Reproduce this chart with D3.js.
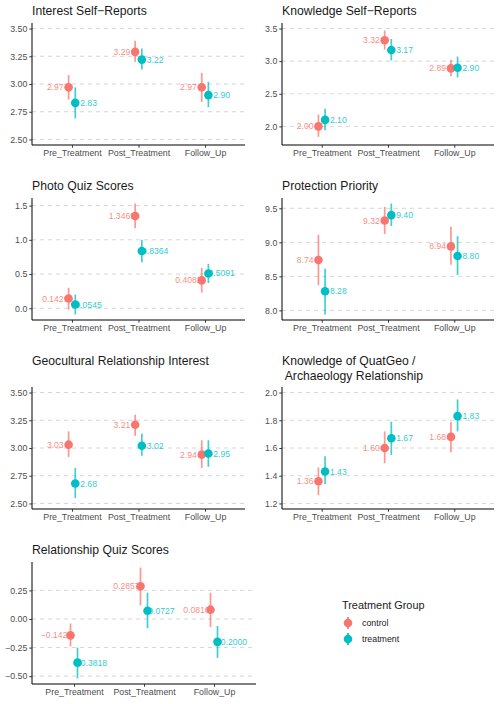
<!DOCTYPE html>
<html>
<head>
<meta charset="utf-8">
<script src="https://cdn.jsdelivr.net/npm/d3@7/dist/d3.min.js"></script>
<style>
  html, body { margin: 0; padding: 0; background: #ffffff; }
  svg { display: block; font-family: 'Liberation Sans', Arial, sans-serif; }
</style>
</head>
<body>
<div id="chart"></div>
<script>
// categories and groups
const categories = ['Pre_Treatment', 'Post_Treatment', 'Follow_Up']
const groups = ['control', 'treatment']
const groupColors = ['#F8766D', '#00BFC4']

// means and 95% intervals, one array per group and panel
const interestCtrl = [2.97, 3.29, 2.97]
const interestCtrlCI = [[2.86, 3.08], [3.20, 3.39], [2.84, 3.10]]
const interestTrt = [2.83, 3.22, 2.90]
const interestTrtCI = [[2.69, 2.97], [3.13, 3.32], [2.79, 3.02]]

const knowCtrl = [2.00, 3.32, 2.89]
const knowCtrlCI = [[1.84, 2.18], [3.18, 3.47], [2.77, 3.02]]
const knowTrt = [2.10, 3.17, 2.90]
const knowTrtCI = [[1.94, 2.27], [3.01, 3.34], [2.75, 3.07]]

const photoCtrl = [0.1429, 1.3469, 0.4082]
const photoCtrlCI = [[-0.02, 0.30], [1.17, 1.53], [0.23, 0.59]]
const photoTrt = [0.0545, 0.8364, 0.5091]
const photoTrtCI = [[-0.09, 0.20], [0.67, 1.00], [0.37, 0.65]]

const protCtrl = [8.74, 9.32, 8.94]
const protCtrlCI = [[8.37, 9.11], [9.12, 9.52], [8.67, 9.23]]
const protTrt = [8.28, 9.40, 8.80]
const protTrtCI = [[7.94, 8.61], [9.24, 9.57], [8.52, 9.09]]

const geoCtrl = [3.03, 3.21, 2.94]
const geoCtrlCI = [[2.92, 3.15], [3.11, 3.30], [2.82, 3.07]]
const geoTrt = [2.68, 3.02, 2.95]
const geoTrtCI = [[2.55, 2.82], [2.93, 3.13], [2.83, 3.07]]

const quatCtrl = [1.36, 1.60, 1.68]
const quatCtrlCI = [[1.26, 1.46], [1.49, 1.72], [1.57, 1.79]]
const quatTrt = [1.43, 1.67, 1.83]
const quatTrtCI = [[1.34, 1.54], [1.55, 1.79], [1.72, 1.95]]

const relCtrl = [-0.1429, 0.2857, 0.0816]
const relCtrlCI = [[-0.24, -0.04], [0.12, 0.45], [-0.07, 0.23]]
const relTrt = [-0.3818, 0.0727, -0.2000]
const relTrtCI = [[-0.52, -0.25], [-0.08, 0.23], [-0.34, -0.06]]

// axis ticks per panel
const interestTicks = [2.5, 2.75, 3.0, 3.25, 3.5]
const knowTicks = [2.0, 2.5, 3.0, 3.5]
const photoTicks = [0.0, 0.5, 1.0, 1.5]
const protTicks = [8.0, 8.5, 9.0, 9.5]
const geoTicks = [2.5, 2.75, 3.0, 3.25, 3.5]
const quatTicks = [1.2, 1.4, 1.6, 1.8, 2.0]
const relTicks = [-0.5, -0.25, 0.0, 0.25]

const W = 500, H = 704
const svg = d3.select('#chart').append('svg').attr('width', W).attr('height', H)
svg.append('rect').attr('width', W).attr('height', H).attr('fill', '#ffffff')

const minus = s => s.replace(/^-/, '\u2212')

const panels = [
  { title: ['Interest Self\u2212Reports'], x0: 32, x1: 245, top: 23, bottom: 145, titleY: 15,
    limits: [2.5, 3.5], ticks: interestTicks, tickFmt: '.2f', labFmt: '.2f',
    mean: [interestCtrl, interestTrt], ci: [interestCtrlCI, interestTrtCI] },
  { title: ['Knowledge Self\u2212Reports'], x0: 282, x1: 494, top: 23, bottom: 145, titleY: 15,
    limits: [1.8, 3.5], ticks: knowTicks, tickFmt: '.1f', labFmt: '.2f',
    mean: [knowCtrl, knowTrt], ci: [knowCtrlCI, knowTrtCI] },
  { title: ['Photo Quiz Scores'], x0: 32, x1: 245, top: 198, bottom: 320, titleY: 190,
    limits: null, ticks: photoTicks, tickFmt: '.1f', labFmt: '.4f',
    mean: [photoCtrl, photoTrt], ci: [photoCtrlCI, photoTrtCI] },
  { title: ['Protection Priority'], x0: 282, x1: 494, top: 198, bottom: 320, titleY: 190,
    limits: null, ticks: protTicks, tickFmt: '.1f', labFmt: '.2f',
    mean: [protCtrl, protTrt], ci: [protCtrlCI, protTrtCI] },
  { title: ['Geocultural Relationship Interest'], x0: 32, x1: 245, top: 387, bottom: 509, titleY: 365,
    limits: [2.5, 3.5], ticks: geoTicks, tickFmt: '.2f', labFmt: '.2f',
    mean: [geoCtrl, geoTrt], ci: [geoCtrlCI, geoTrtCI] },
  { title: ['Knowledge of QuatGeo /', ' Archaeology Relationship'], x0: 282, x1: 494, top: 387, bottom: 509, titleY: 365,
    limits: [1.2, 2.0], ticks: quatTicks, tickFmt: '.1f', labFmt: '.2f',
    mean: [quatCtrl, quatTrt], ci: [quatCtrlCI, quatTrtCI] },
  { title: ['Relationship Quiz Scores'], x0: 32, x1: 256, top: 562, bottom: 684, titleY: 554,
    limits: null, ticks: relTicks, tickFmt: '.2f', labFmt: '.4f',
    mean: [relCtrl, relTrt], ci: [relCtrlCI, relTrtCI] }
]

function drawPanel(p) {
  const g = svg.append('g')
  // limits: explicit, or the range of the error bars; then 5% expansion like ggplot
  let lim = p.limits
  if (!lim) {
    const all = p.ci.flat(2)
    lim = d3.extent(all)
  }
  const pad = (lim[1] - lim[0]) * 0.05
  const y = d3.scaleLinear().domain([lim[0] - pad, lim[1] + pad]).range([p.bottom, p.top])
  const x = d3.scalePoint().domain(categories).range([p.x0, p.x1]).padding(0.6)
  const step = x.step()
  const dodge = [-0.05 * step, 0.05 * step]
  const nudge = [-0.2 * step, 0.2 * step]

  // title
  p.title.forEach((t, i) => {
    g.append('text').attr('x', p.x0).attr('y', p.titleY + i * 14.5)
      .attr('font-size', 12.2).attr('fill', '#1a1a1a').attr('xml:space', 'preserve').text(t)
  })

  // dashed grid
  g.append('g').selectAll('line').data(p.ticks).join('line')
    .attr('x1', p.x0).attr('x2', p.x1)
    .attr('y1', d => y(d)).attr('y2', d => y(d))
    .attr('stroke', '#cccccc').attr('stroke-width', 0.8).attr('stroke-dasharray', '4,4')

  // axes
  const fmtT = d3.format(p.tickFmt)
  const ya = g.append('g').attr('transform', `translate(${p.x0},0)`)
    .call(d3.axisLeft(y).tickValues(p.ticks).tickSize(2.7).tickPadding(2).tickFormat(d => minus(fmtT(d))))
  ya.select('.domain').attr('d', `M0,${p.top}V${p.bottom}`).attr('stroke', '#000').attr('stroke-width', 1)
  ya.selectAll('.tick line').attr('stroke', '#333')
  ya.selectAll('.tick text').attr('font-size', 8.8).attr('fill', '#4d4d4d').attr('font-family', null)

  const xa = g.append('g').attr('transform', `translate(0,${p.bottom})`)
    .call(d3.axisBottom(x).tickSize(2.7).tickPadding(2))
  xa.select('.domain').attr('d', `M${p.x0},0H${p.x1}`).attr('stroke', '#000').attr('stroke-width', 1)
  xa.selectAll('.tick line').attr('stroke', '#333')
  xa.selectAll('.tick text').attr('font-size', 8.8).attr('fill', '#4d4d4d').attr('font-family', null)

  const fmtL = d3.format(p.labFmt)
  groups.forEach((grp, gi) => {
    const col = groupColors[gi]
    const rows = categories.map((c, i) => ({ c, m: p.mean[gi][i], lo: p.ci[gi][i][0], hi: p.ci[gi][i][1] }))
    // error bars
    g.append('g').selectAll('line').data(rows).join('line')
      .attr('x1', d => x(d.c) + dodge[gi]).attr('x2', d => x(d.c) + dodge[gi])
      .attr('y1', d => y(d.lo)).attr('y2', d => y(d.hi))
      .attr('stroke', col).attr('stroke-opacity', 0.75).attr('stroke-width', 1.7)
    // value labels
    g.append('g').selectAll('text').data(rows).join('text')
      .attr('x', d => x(d.c) + dodge[gi] + nudge[gi]).attr('y', d => y(d.m))
      .attr('dy', '0.35em').attr('text-anchor', 'middle')
      .attr('font-size', 8.6).attr('fill', col).attr('fill-opacity', 0.85)
      .text(d => fmtL(d.m))
  })
  // points on top
  groups.forEach((grp, gi) => {
    g.append('g').selectAll('circle').data(categories.map((c, i) => ({ c, m: p.mean[gi][i] }))).join('circle')
      .attr('cx', d => x(d.c) + dodge[gi]).attr('cy', d => y(d.m))
      .attr('r', 4.3).attr('fill', groupColors[gi])
  })
}

panels.forEach(drawPanel)

// legend
const lg = svg.append('g').attr('transform', 'translate(342,609)')
lg.append('text').attr('font-size', 10.9).attr('fill', '#1a1a1a').text('Treatment Group')
groups.forEach((grp, i) => {
  const ky = 14 + i * 16
  lg.append('line').attr('x1', 6).attr('x2', 6).attr('y1', ky - 6).attr('y2', ky + 6)
    .attr('stroke', groupColors[i]).attr('stroke-width', 1.7)
  lg.append('circle').attr('cx', 6).attr('cy', ky).attr('r', 4.3).attr('fill', groupColors[i])
  lg.append('text').attr('x', 20).attr('y', ky).attr('dy', '0.35em')
    .attr('font-size', 8.8).attr('fill', '#1a1a1a').text(grp)
})
</script>
</body>
</html>
